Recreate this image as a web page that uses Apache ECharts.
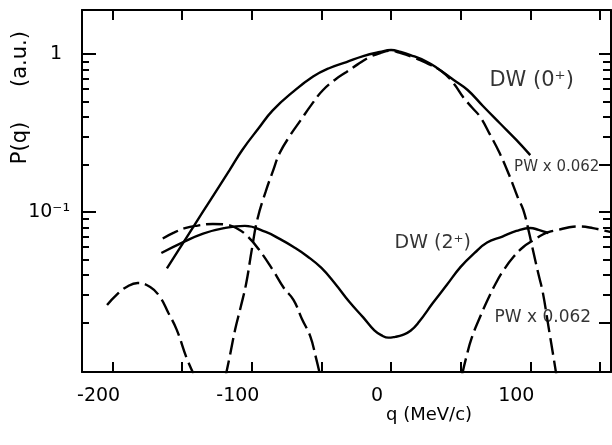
<!DOCTYPE html>
<html><head><meta charset="utf-8">
<script src="https://cdn.jsdelivr.net/npm/echarts@6/dist/echarts.min.js"></script>
<style>html,body{margin:0;padding:0;background:#fff}#c{width:612px;height:445px}</style>
</head><body><div id="c"></div>
<script>
// ---- axis ticks / labels ----
const xTickValues = [-200, -150, -100, -50, 0, 50, 100, 150];
const xLabelValues = [-200, -100, 0, 100];
const yMajorTicks = [0.1, 1];
const yMinorTicks = [0.02, 0.03, 0.04, 0.05, 0.06, 0.07, 0.08, 0.09, 0.2, 0.3, 0.4, 0.5, 0.6, 0.7, 0.8, 0.9];
const yRightLongTicks = [0.02, 0.1, 0.2, 1];
const yRightShortTicks = [0.03, 0.04, 0.05, 0.06, 0.07, 0.08, 0.09, 0.3, 0.4, 0.5, 0.6, 0.7, 0.8, 0.9];

// ---- DW(0+) solid ----
const dw0Q = [-161, -150, -140, -130, -116, -107, -95, -85, -70, -56, -45, -32, -20, -8, 0, 7, 14, 25, 33, 45, 55, 66, 78, 90, 100];
const dw0P = [0.044, 0.0624, 0.086, 0.118, 0.184, 0.246, 0.34, 0.44, 0.58, 0.72, 0.81, 0.89, 0.97, 1.03, 1.06, 1.03, 0.985, 0.9, 0.816, 0.685, 0.592, 0.469, 0.366, 0.286, 0.229];

// ---- PW x 0.062 (0+) dashed, central lobe ----
const pw0Q = [-119, -116, -112, -108, -104, -100, -96, -90, -85, -80, -72, -65, -57, -49, -40, -32, -24, -15, -7, 0, 6, 15, 25, 37, 45, 52, 58, 64, 71, 78, 85, 91, 95, 99, 102, 106, 109, 113, 117, 119];
const pw0P = [0.009, 0.012, 0.018, 0.025, 0.0355, 0.058, 0.09, 0.135, 0.18, 0.236, 0.31, 0.38, 0.48, 0.59, 0.69, 0.77, 0.86, 0.96, 1.02, 1.05, 1.02, 0.96, 0.88, 0.77, 0.65, 0.53, 0.46, 0.40, 0.31, 0.236, 0.17, 0.124, 0.103, 0.075, 0.057, 0.04, 0.031, 0.019, 0.0116, 0.009];

// ---- PW x 0.062 (0+) dashed, outer lobe ----
const pw0OuterQ = [-204, -197, -190, -182, -173, -166, -160, -154, -147, -142];
const pw0OuterP = [0.0258, 0.030, 0.0335, 0.0355, 0.0335, 0.029, 0.023, 0.018, 0.012, 0.0095];

// ---- DW(2+) solid ----
const dw2Q = [-165, -150, -135, -120, -105, -90, -80, -70, -60, -50, -40, -30, -20, -12, -6, -2, 3, 8, 14, 20, 30, 40, 50, 60, 69, 80, 90, 100, 106, 113];
const dw2P = [0.055, 0.064, 0.073, 0.079, 0.0816, 0.0747, 0.0675, 0.06, 0.0523, 0.0442, 0.035, 0.027, 0.0215, 0.0178, 0.0164, 0.016, 0.0162, 0.0166, 0.0177, 0.0201, 0.0265, 0.0345, 0.0449, 0.055, 0.064, 0.0699, 0.0758, 0.0792, 0.077, 0.0736];

// ---- PW x 0.062 (2+) dashed ----
const pw2LeftQ = [-164, -156, -148, -139, -128, -118, -110, -103, -95, -85, -77, -70, -64, -58, -54, -51];
const pw2LeftP = [0.068, 0.074, 0.079, 0.082, 0.084, 0.083, 0.078, 0.07, 0.058, 0.043, 0.033, 0.0277, 0.021, 0.0163, 0.012, 0.0093];
const pw2RightQ = [51, 54, 58, 64, 70, 75, 81, 88, 95, 102, 109, 113, 120, 128, 135, 145, 158];
const pw2RightP = [0.0093, 0.012, 0.016, 0.0217, 0.0285, 0.035, 0.043, 0.052, 0.06, 0.066, 0.072, 0.0745, 0.077, 0.08, 0.081, 0.079, 0.0745];

// ---- annotations ----
const annText = ['DW (0⁺)', 'PW x 0.062', 'DW (2⁺)', 'PW x 0.062'];
const annQ = [101, 119, 30, 109];
const annP = [0.684, 0.193, 0.0637, 0.0216];
const annSize = [21, 15, 19, 17];

const zip = (q, p) => q.map((v, i) => [v, p[i]]);
const FONT = 'DejaVu Sans';
const INK = '#000';
const LW = 2.4;

const chart = echarts.init(document.getElementById('c'), null, {renderer: 'canvas'});

const yBase = {type: 'log', logBase: 10, min: 0.0097, max: 1.9, offset: 0, splitLine: {show: false}};

function lineSeries(name, data, dashed) {
  return {
    name, type: 'line', data, showSymbol: false, symbol: 'none', smooth: 0.45,
    xAxisIndex: 0, yAxisIndex: 0, clip: true, silent: true,
    lineStyle: {color: INK, width: LW, type: dashed ? [17, 6] : 'solid'}
  };
}

const option = {
  animation: false,
  backgroundColor: '#fff',
  grid: {left: 82, right: 1, top: 10, bottom: 73, containLabel: false, outerBoundsMode: 'none'},
  xAxis: [
    {
      type: 'value', position: 'bottom', min: -222, max: 158, offset: 0,
      axisLine: {show: true, onZero: false, lineStyle: {color: INK, width: 2}},
      axisTick: {show: true, inside: true, length: 10, customValues: xTickValues, lineStyle: {color: INK, width: 2}},
      axisLabel: {show: true, customValues: xLabelValues, margin: 15, color: INK, fontFamily: FONT, fontSize: 19, padding: [0, 28, 0, 0]},
      splitLine: {show: false}
    },
    {
      type: 'value', position: 'top', min: -222, max: 158, offset: 0,
      axisLine: {show: true, onZero: false, lineStyle: {color: INK, width: 2}},
      axisTick: {show: true, inside: true, length: 10, customValues: xTickValues, lineStyle: {color: INK, width: 2}},
      axisLabel: {show: false},
      splitLine: {show: false}
    }
  ],
  yAxis: [
    Object.assign({}, yBase, {
      position: 'left',
      axisLine: {show: true, onZero: false, lineStyle: {color: INK, width: 2}},
      axisTick: {show: true, inside: true, length: 14, customValues: yMajorTicks, lineStyle: {color: INK, width: 2}},
      axisLabel: {
        show: true, customValues: yMajorTicks, margin: 12, color: INK, fontFamily: FONT, fontSize: 19,
        formatter: v => (v > 0.5 ? '{one|1}' : '10⁻¹'),
        rich: {one: {fontFamily: FONT, fontSize: 19, color: INK, padding: [0, 8, 0, 0]}}
      }
    }),
    Object.assign({}, yBase, {
      position: 'left',
      axisLine: {show: false, onZero: false},
      axisTick: {show: true, inside: true, length: 7, customValues: yMinorTicks, lineStyle: {color: INK, width: 2}},
      axisLabel: {show: false}
    }),
    Object.assign({}, yBase, {
      position: 'right',
      axisLine: {show: true, onZero: false, lineStyle: {color: INK, width: 2}},
      axisTick: {show: true, inside: true, length: 8, customValues: yRightShortTicks, lineStyle: {color: INK, width: 2}},
      axisLabel: {show: false}
    }),
    Object.assign({}, yBase, {
      position: 'right',
      axisLine: {show: false, onZero: false},
      axisTick: {show: true, inside: true, length: 12, customValues: yRightLongTicks, lineStyle: {color: INK, width: 2}},
      axisLabel: {show: false}
    })
  ],
  graphic: [
    {type: 'text', left: 386, top: 406, style: {text: 'q (MeV/c)', font: '18px "DejaVu Sans"', fill: INK}},
    {type: 'text', x: 21, y: 143, rotation: Math.PI / 2, style: {text: 'P(q)', font: '21px "DejaVu Sans"', fill: INK, textAlign: 'center', textVerticalAlign: 'middle'}},
    {type: 'text', x: 21, y: 59, rotation: Math.PI / 2, style: {text: '(a.u.)', font: '21px "DejaVu Sans"', fill: INK, textAlign: 'center', textVerticalAlign: 'middle'}}
  ],
  series: [
    lineSeries('DW(0+)', zip(dw0Q, dw0P), false),
    lineSeries('PW(0+)', zip(pw0Q, pw0P), true),
    lineSeries('PW(0+) outer', zip(pw0OuterQ, pw0OuterP), true),
    lineSeries('DW(2+)', zip(dw2Q, dw2P), false),
    lineSeries('PW(2+) left', zip(pw2LeftQ, pw2LeftP), true),
    lineSeries('PW(2+) right', zip(pw2RightQ, pw2RightP), true),
    {
      name: 'labels', type: 'scatter', xAxisIndex: 0, yAxisIndex: 0, symbolSize: 0, silent: true,
      data: annText.map((t, i) => ({
        value: [annQ[i], annP[i]], name: t,
        label: {show: true, position: 'inside', formatter: t, color: INK, fontFamily: FONT, fontSize: annSize[i]}
      }))
    }
  ]
};
chart.setOption(option);
</script>
</body></html>
